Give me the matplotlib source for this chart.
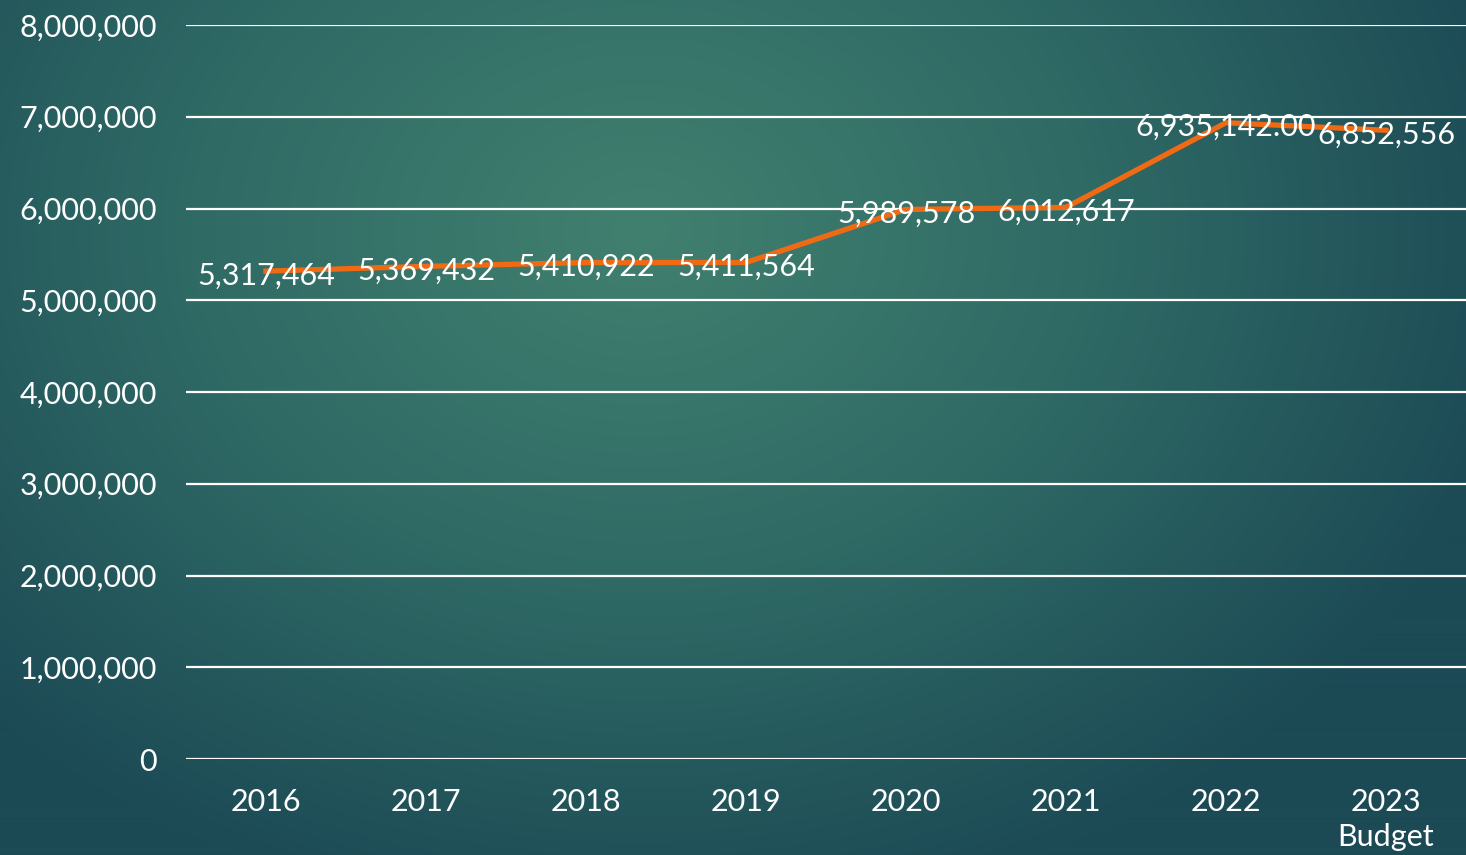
import matplotlib
matplotlib.use("Agg")
import matplotlib.pyplot as plt
import numpy as np
from matplotlib.colors import LinearSegmentedColormap

plt.rcParams['font.family'] = ['Lato', 'DejaVu Sans']

years = ['2016', '2017', '2018', '2019', '2020', '2021', '2022', '2023\nBudget']
values = [5317464, 5369432, 5410922, 5411564, 5989578, 6012617, 6935142.00, 6852556]
labels = ['5,317,464', '5,369,432', '5,410,922', '5,411,564', '5,989,578',
          '6,012,617', '6,935,142.00', '6,852,556']

W, H = 1466, 855
fig = plt.figure(figsize=(W / 100, H / 100), dpi=100)

# radial teal background
bg = fig.add_axes([0, 0, 1, 1], zorder=0)
yy, xx = np.mgrid[0:H, 0:W]
r = np.sqrt(((xx - 640) / 900.0) ** 2 + ((yy - 230) / 700.0) ** 2)
r = np.clip(r, 0, 1)
cmap = LinearSegmentedColormap.from_list('bg', ['#41806f', '#2f6a65', '#1c4a55'])
bg.imshow(r, cmap=cmap, aspect='auto', extent=[0, W, H, 0], vmin=0, vmax=1)
bg.axis('off')

ax = fig.add_axes([186 / W, (H - 759) / H, 1 - 186 / W, (759 - 25) / H], zorder=1)
ax.patch.set_alpha(0)
x = np.arange(len(years))
ax.plot(x, values, color='#f06a14', lw=3.8, solid_joinstyle='miter', zorder=3)
for xi, v, t in zip(x, values, labels):
    ax.annotate(t, (xi, v), xytext=(0, -3), textcoords='offset points',
                color='white', fontsize=22, ha='center', va='center', zorder=4)

ax.set_xlim(-0.5, 7.5)
ax.set_ylim(0, 8000000)
ax.set_yticks(np.arange(0, 8000001, 1000000))
ax.set_yticklabels([f'{int(v):,}' for v in np.arange(0, 8000001, 1000000)])
ax.set_xticks(x)
ax.set_xticklabels(years, linespacing=1.3)
ax.grid(axis='y', color='white', lw=1.6)
ax.set_axisbelow(True)
for s in ax.spines.values():
    s.set_visible(False)
ax.tick_params(colors='white', labelsize=22, length=0)
ax.tick_params(axis='y', pad=21)
ax.tick_params(axis='x', pad=21)

fig.savefig('out.png', dpi=100)
